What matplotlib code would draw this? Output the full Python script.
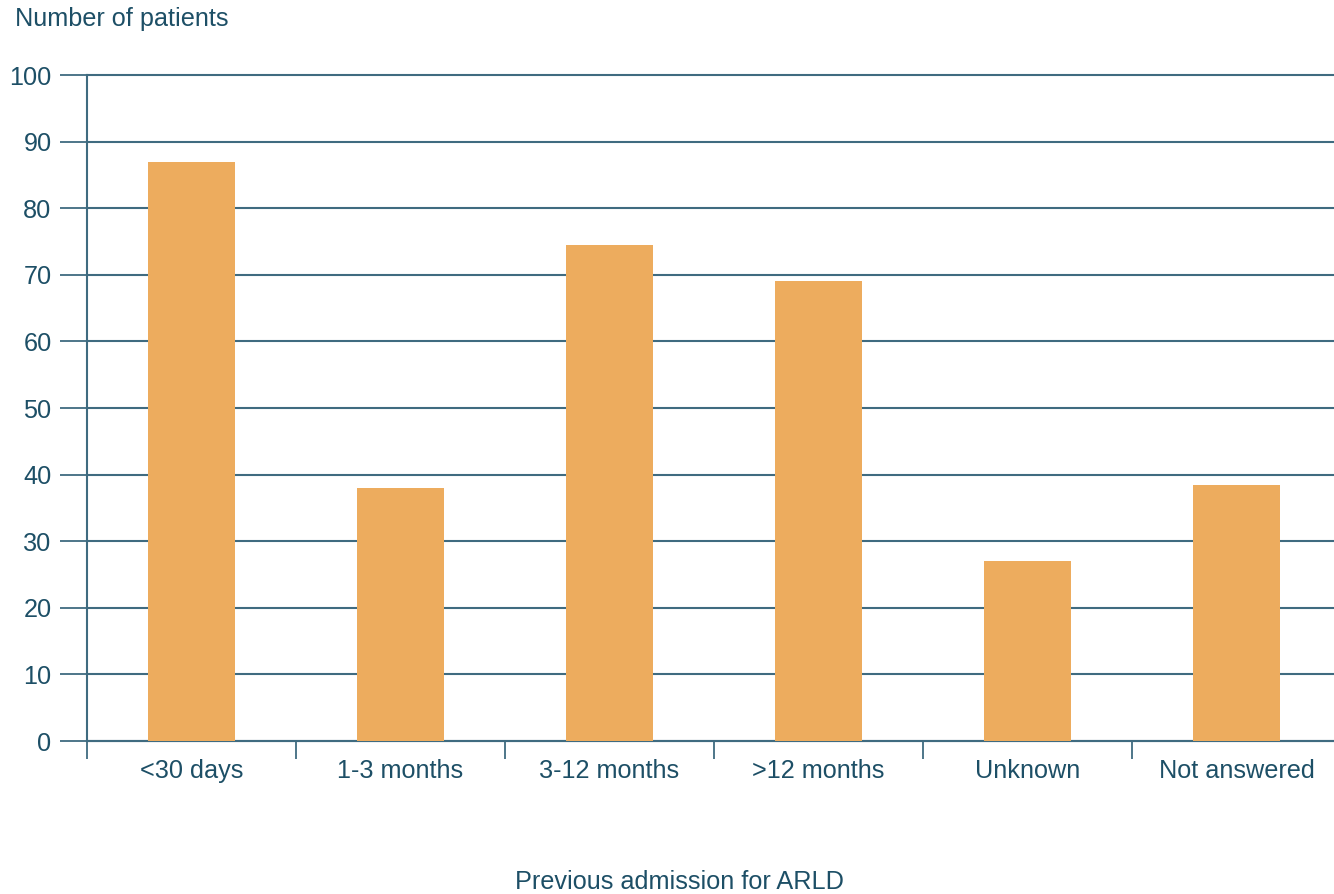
import numpy as np
import matplotlib.pyplot as plt

plt.rcParams['font.family'] = ['Liberation Sans', 'DejaVu Sans']

# previous admission interval vs patient count
categories = ["<30 days", "1-3 months", "3-12 months", ">12 months", "Unknown", "Not answered"]
patients = [87, 38, 74.5, 69, 27, 38.5]
y_ticks = [0, 10, 20, 30, 40, 50, 60, 70, 80, 90, 100]

ink = "#1d4f66"
grid_col = "#3f6b80"
bar_col = "#edac5e"
fs = 18.2

fig = plt.figure(figsize=(13.34, 8.94), dpi=100)
ax = fig.add_axes([0.0652, 0.1711, 0.940, 0.745])

x = np.arange(len(categories))
ax.bar(x, patients, width=0.415, color=bar_col, zorder=3)

ax.set_xlim(-0.5, len(categories) - 0.5)
ax.set_ylim(0, 100)
ax.set_yticks(y_ticks)
ax.set_yticklabels([str(v) for v in y_ticks])
ax.yaxis.grid(True, color=grid_col, linewidth=1.5, zorder=1)
for gl in ax.get_ygridlines():
    gl.set_clip_on(False)
ax.tick_params(axis='y', length=19.5, width=1.3, color=grid_col, pad=6,
               labelsize=fs, labelcolor=ink)

# boundaries between categories carry the tick marks, names sit in between
ax.set_xticks(np.arange(len(categories) + 1) - 0.5)
ax.set_xticklabels([])
ax.set_xticks(x, minor=True)
ax.set_xticklabels(categories, minor=True)
ax.tick_params(axis='x', which='major', length=13, width=1.3, color=grid_col)
ax.tick_params(axis='x', which='minor', length=0, pad=13,
               labelsize=fs, labelcolor=ink)

for side in ['top', 'right']:
    ax.spines[side].set_visible(False)
for side in ['left', 'bottom']:
    ax.spines[side].set_color(grid_col)
    ax.spines[side].set_linewidth(1.5)
ax.set_axisbelow(True)

fig.text(15 / 1334, 1 - 19 / 894, "Number of patients", ha='left', va='center',
         fontsize=fs, color=ink)
fig.text(679 / 1334, 1 - 882 / 894, "Previous admission for ARLD", ha='center',
         va='center', fontsize=fs, color=ink)

fig.savefig("out.png", dpi=100, facecolor='white')
